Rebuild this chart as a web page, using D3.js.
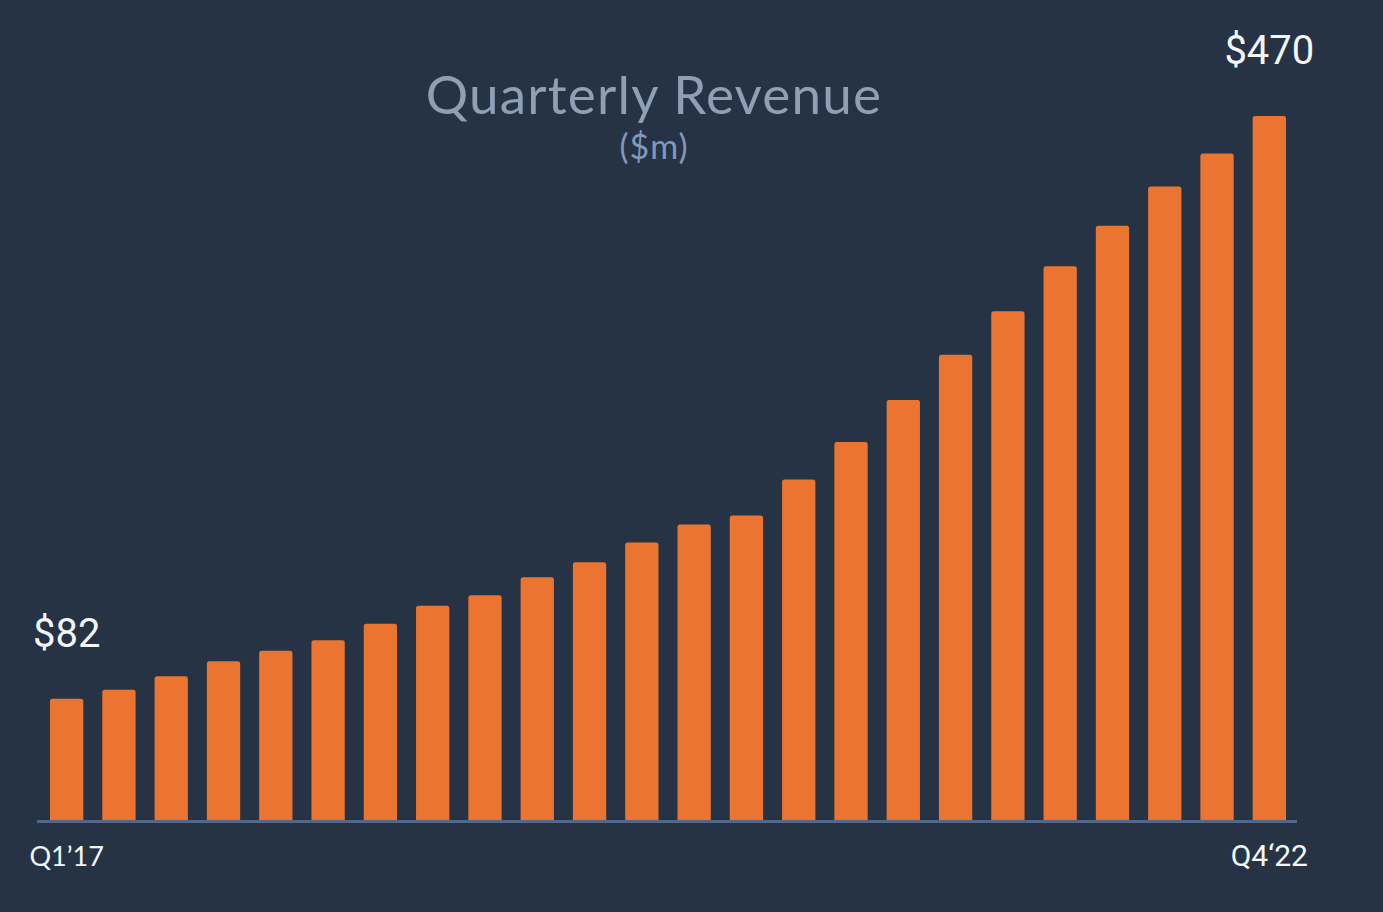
<!DOCTYPE html>
<html>
<head>
<meta charset="utf-8">
<script src="https://cdn.jsdelivr.net/npm/d3@7"></script>
<style>
  html, body { margin: 0; padding: 0; background: #263345; }
  svg { display: block; }
</style>
</head>
<body>
<svg width="1383" height="912"></svg>
<script>
const quarters = [
  "Q1'17", "Q2'17", "Q3'17", "Q4'17",
  "Q1'18", "Q2'18", "Q3'18", "Q4'18",
  "Q1'19", "Q2'19", "Q3'19", "Q4'19",
  "Q1'20", "Q2'20", "Q3'20", "Q4'20",
  "Q1'21", "Q2'21", "Q3'21", "Q4'21",
  "Q1'22", "Q2'22", "Q3'22", "Q4'22"
];
const revenue = [
  82, 88, 97, 107, 114, 121, 132, 144,
  151, 163, 173, 186, 198, 204, 228, 253,
  281, 311, 340, 370, 397, 423, 445, 470
];
// only first and last quarter get labels
const tickLabels = ["Q1\u201917", "Q4\u201822"];
const valueLabels = ["$82", "$470"];

const svg = d3.select("svg");

const x = d3.scaleBand()
  .domain(quarters)
  .range([50, 1286])
  .paddingInner(0.363)
  .paddingOuter(0);

const y = d3.scaleLinear()
  .domain([0, 470])
  .range([822, 116]);

// Title
svg.append("text")
  .attr("x", 654)
  .attr("y", 114)
  .attr("text-anchor", "middle")
  .attr("fill", "#8e9fb6")
  .style("font-family", "Lato")
  .style("font-weight", 400)
  .style("font-size", "53px")
  .style("letter-spacing", "1.2px")
  .text("Quarterly Revenue");

svg.append("text")
  .attr("x", 654)
  .attr("y", 159)
  .attr("text-anchor", "middle")
  .attr("fill", "#8198bb")
  .style("font-family", "Lato")
  .style("font-weight", 400)
  .style("font-size", "34px")
  .style("letter-spacing", "1px")
  .text("($m)");

// Bars
svg.append("g")
  .selectAll("rect.bar")
  .data(revenue)
  .enter()
  .append("rect")
  .attr("class", "bar")
  .attr("x", function (d, i) { return x(quarters[i]); })
  .attr("y", function (d) { return y(d); })
  .attr("width", x.bandwidth())
  .attr("height", function (d) { return y(0) - y(d); })
  .attr("rx", 2.5)
  .attr("fill", "#eb7530");

// Baseline
svg.append("line")
  .attr("x1", x.range()[0] - 13)
  .attr("x2", x.range()[1] + 11)
  .attr("y1", y(0) - 0.5)
  .attr("y2", y(0) - 0.5)
  .attr("stroke", "#52688a")
  .attr("stroke-width", 3);

// End value labels
const ends = [0, revenue.length - 1];
svg.append("g")
  .selectAll("text.value")
  .data(ends)
  .enter()
  .append("text")
  .attr("class", "value")
  .attr("text-anchor", "middle")
  .attr("x", function (i) { return x(quarters[i]) + x.bandwidth() / 2; })
  .attr("y", function (i) { return y(revenue[i]) - 52; })
  .attr("fill", "#f4f6f8")
  .style("font-family", "Roboto")
  .style("font-size", "40px")
  .text(function (d, k) { return valueLabels[k]; });

// End tick labels
svg.append("g")
  .selectAll("text.tick")
  .data(ends)
  .enter()
  .append("text")
  .attr("class", "tick")
  .attr("text-anchor", "middle")
  .attr("x", function (i) { return x(quarters[i]) + x.bandwidth() / 2; })
  .attr("y", 866)
  .attr("fill", "#f4f6f8")
  .style("font-family", function (d, k) { return k === 0 ? "Lato" : "Roboto"; })
  .style("font-size", function (d, k) { return k === 0 ? "27px" : "30px"; })
  .text(function (d, k) { return tickLabels[k]; });
</script>
</body>
</html>
